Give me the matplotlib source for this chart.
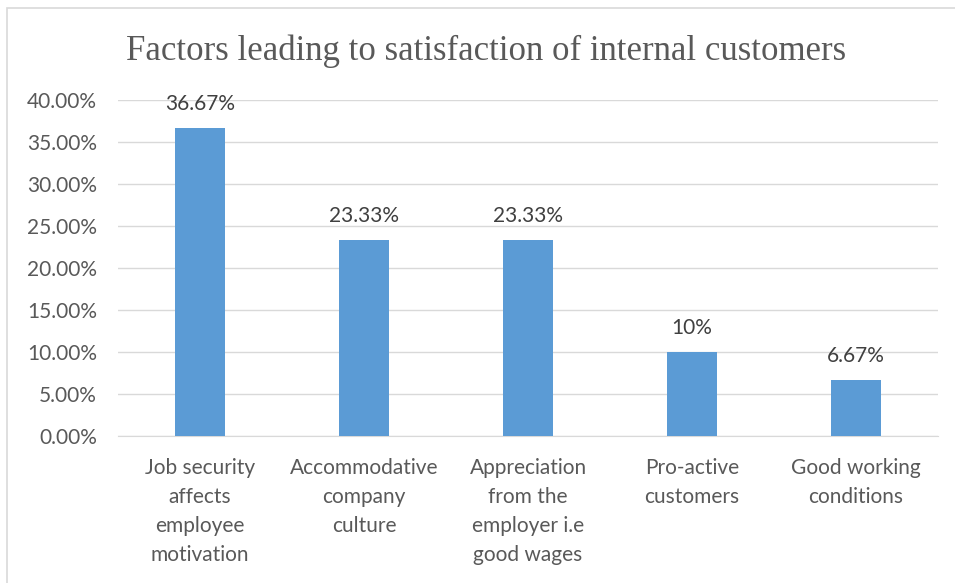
import matplotlib
matplotlib.use("Agg")
import matplotlib.pyplot as plt
from matplotlib.patches import Rectangle
from matplotlib.ticker import FuncFormatter, MultipleLocator

categories = ["Job security\naffects\nemployee\nmotivation",
              "Accommodative\ncompany\nculture",
              "Appreciation\nfrom the\nemployer i.e\ngood wages",
              "Pro-active\ncustomers",
              "Good working\nconditions"]
values = [36.67, 23.33, 23.33, 10.0, 6.67]
value_labels = ["36.67%", "23.33%", "23.33%", "10%", "6.67%"]
title = "Factors leading to satisfaction of internal customers"

W, H = 955, 583
fig = plt.figure(figsize=(W/100, H/100), dpi=100)
ax = fig.add_axes([118/W, 1-436/H, 820/W, 336/H])

FONT = "Lato"
FS = 15

x = list(range(len(categories)))
ax.bar(x, values, width=0.31, color="#5B9BD5", zorder=3)
ax.set_xlim(-0.5, len(categories)-0.5)
ax.set_ylim(0, 40)
ax.yaxis.set_major_locator(MultipleLocator(5))
ax.yaxis.set_major_formatter(FuncFormatter(lambda v, p: f"{v:.2f}%"))
ax.grid(axis="y", color="#D9D9D9", linewidth=1, zorder=0)
for s in ["top", "right", "left"]:
    ax.spines[s].set_visible(False)
ax.spines["bottom"].set_color("#D9D9D9")
ax.tick_params(axis="both", length=0, colors="#595959", labelsize=FS)
ax.tick_params(axis="y", pad=15)
ax.tick_params(axis="x", pad=16)
ax.set_xticks(x)
ax.set_xticklabels(categories, linespacing=1.55)
for lab in ax.get_xticklabels() + ax.get_yticklabels():
    lab.set_fontfamily(FONT)
for xi, v, t in zip(x, values, value_labels):
    ax.annotate(t, (xi, v), xytext=(0, 10), textcoords="offset points",
                ha="center", va="bottom", fontsize=FS, color="#404040",
                family=FONT)

fig.text(486/W, 1-51/H, title, ha="center", va="center", fontsize=25,
         color="#595959", family="Liberation Serif")

fig.patches.append(Rectangle((7/W, -0.1), 1.1, 1-8/H+0.1, transform=fig.transFigure,
                             fill=False, edgecolor="#D9D9D9", linewidth=1.2))
fig.savefig("out.png", dpi=100)
